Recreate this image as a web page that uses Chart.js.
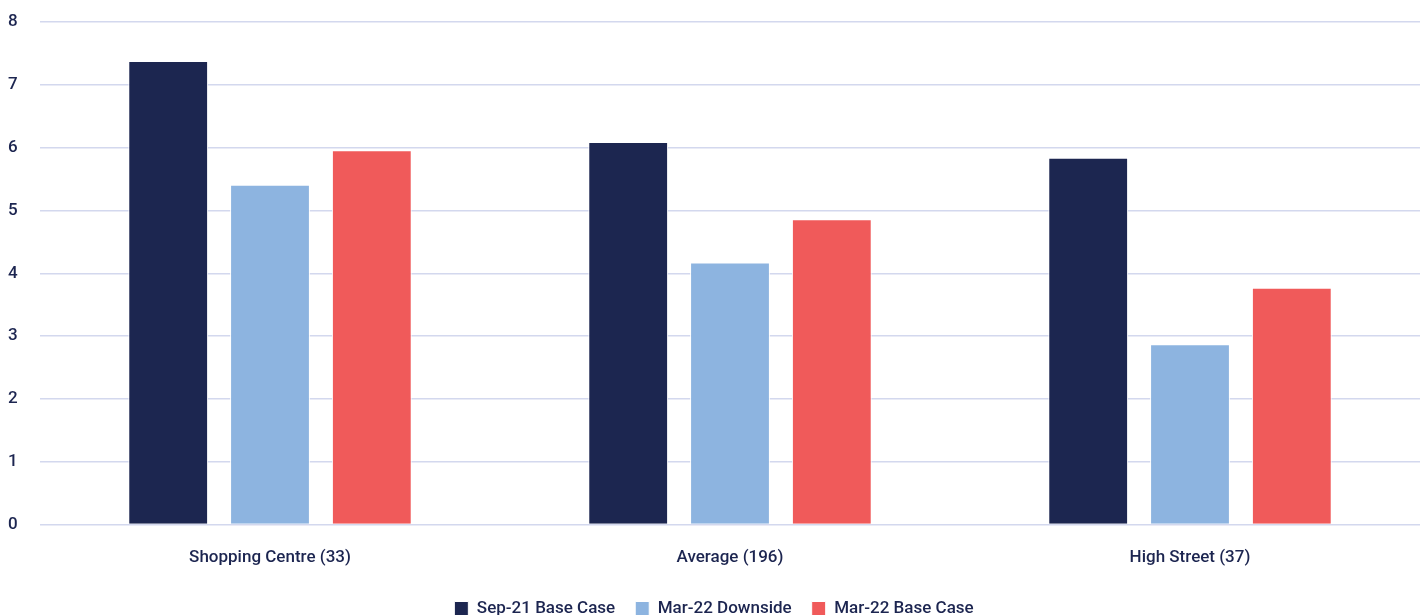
<!DOCTYPE html>
<html lang="en">
  <head>
    <meta charset="UTF-8" />
    <title>Retail yields</title>
    <script src="https://cdn.jsdelivr.net/npm/chart.js"></script>
    <style>
      html, body { margin: 0; padding: 0; background: #fff; }
      #wrap { width: 1425px; height: 615px; position: relative; }
    </style>
  </head>
  <body>
    <div id="wrap"><canvas id="chart"></canvas></div>
    <script>
      // Categories and series
      const categories = ["Shopping Centre (33)", "Average (196)", "High Street (37)"];
      const sep21Base = [7.38, 6.09, 5.84];
      const mar22Down = [5.41, 4.17, 2.87];
      const mar22Base = [5.96, 4.86, 3.77];
      const yTicks = [0, 1, 2, 3, 4, 5, 6, 7, 8];

      const ink = "#1c2550";
      const font = { family: "Roboto, 'DejaVu Sans Condensed', sans-serif", size: 17, weight: "500" };

      const ctx = document.getElementById("chart").getContext("2d");
      new Chart(ctx, {
        type: "bar",
        data: {
          labels: categories,
          datasets: [
            { label: "Sep-21 Base Case", data: sep21Base, backgroundColor: "#1c2650" },
            { label: "Mar-22 Downside", data: mar22Down, backgroundColor: "#8db4e0" },
            { label: "Mar-22 Base Case", data: mar22Base, backgroundColor: "#f05a5a" },
          ].map((d) => ({
            ...d,
            borderColor: "#ffffff",
            borderWidth: 1,
            barPercentage: 0.784,
            categoryPercentage: 0.664,
          })),
        },
        options: {
          responsive: true,
          maintainAspectRatio: false,
          animation: false,
          layout: { padding: { top: 22, right: 5, bottom: -12, left: 8 } },
          plugins: {
            tooltip: { enabled: false },
            legend: {
              position: "bottom",
              labels: {
                color: ink,
                font: font,
                boxWidth: 14,
                boxHeight: 14,
                padding: 20,
              },
            },
          },
          scales: {
            x: {
              grid: { display: false },
              border: { display: false },
              ticks: { color: ink, font: font, padding: 15 },
              afterFit: (axis) => {
                axis.height -= 3;
              },
            },
            y: {
              min: 0,
              max: 8,
              afterBuildTicks: (axis) => {
                axis.ticks = yTicks.map((v) => ({ value: v }));
              },
              afterFit: (axis) => {
                axis.width = 32;
              },
              grid: { color: "#d3d8ee", lineWidth: 1.5, drawTicks: false },
              border: { display: false },
              ticks: { color: ink, font: font, padding: 8, crossAlign: "far" },
            },
          },
        },
      });
    </script>
  </body>
</html>
